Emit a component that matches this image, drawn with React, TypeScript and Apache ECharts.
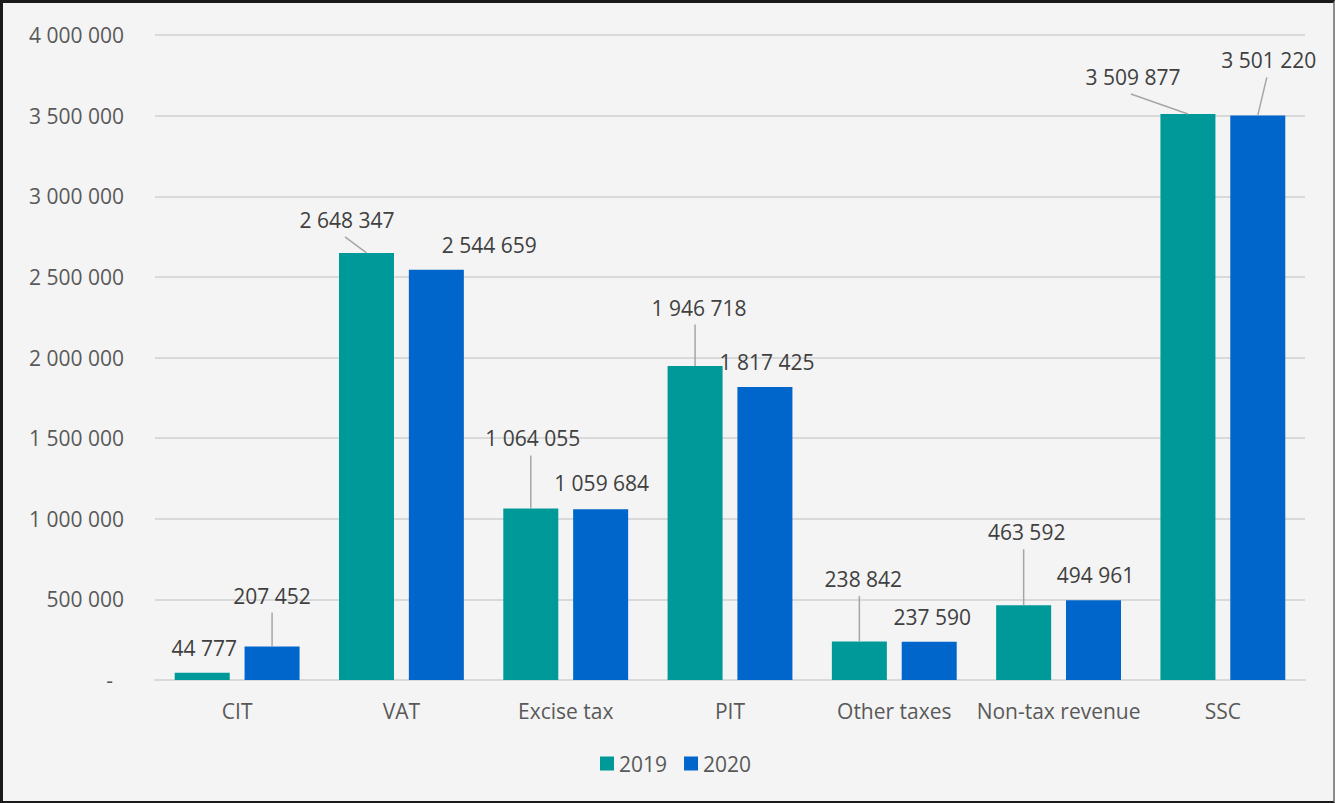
import React, { useEffect, useRef } from "react";
import * as echarts from "echarts";

const categories = ["CIT", "VAT", "Excise tax", "PIT", "Other taxes", "Non-tax revenue", "SSC"];
const values2019 = [44777, 2648347, 1064055, 1946718, 238842, 463592, 3509877];
const values2020 = [207452, 2544659, 1059684, 1817425, 237590, 494961, 3501220];
const seriesNames = ["2019", "2020"];

// label placement (label centre relative to bar top centre), layout only
const labelOffsets2019 = [[2, -25], [-19.5, -33], [2, -70], [4, -58.5], [4, -62.5], [3, -73], [-55, -37]];
const labelOffsets2020 = [[0, -51], [53, -25], [1, -26], [2, -25], [3, -25], [2, -25], [11, -55]];
const leaders2019 = [false, true, true, true, true, true, true];
const leaders2020 = [true, false, false, false, false, false, true];

const Y_MIN = 0;
const Y_MAX = 4000000;
const Y_STEP = 500000;

const FONT = "'Open Sans', 'Noto Sans', sans-serif";
const BAR_W = 55;
const BAR_GAP = 0.27;
const BAR_OFF = (BAR_W + BAR_W * BAR_GAP) / 2;

const fmt = (v: number) => String(Math.round(v)).replace(/\B(?=(\d{3})+(?!\d))/g, " ");

export default function App() {
  const ref = useRef<HTMLDivElement>(null);

  useEffect(() => {
    if (!ref.current) return;
    const chart = echarts.init(ref.current, undefined, { renderer: "svg" });

    const leaderData: number[][] = [];
    [values2019, values2020].forEach((vals, s) => {
      const flags = s === 0 ? leaders2019 : leaders2020;
      const offs = s === 0 ? labelOffsets2019 : labelOffsets2020;
      vals.forEach((v, i) => {
        if (flags[i]) leaderData.push([i, v, s, offs[i][0], offs[i][1]]);
      });
    });

    const makeLabelLayout = (offs: number[][]) => (p: any) => {
      const o = offs[p.dataIndex];
      return {
        x: p.rect.x + p.rect.width / 2 + o[0],
        y: p.rect.y + o[1],
        align: "center",
        verticalAlign: "middle",
      };
    };

    const barLabel = {
      show: true,
      position: "top",
      distance: 0,
      color: "#404040",
      fontSize: 21,
      fontFamily: FONT,
      formatter: (p: any) => fmt(p.value),
    };

    chart.setOption({
      animation: false,
      backgroundColor: "#F4F4F4",
      textStyle: { fontFamily: FONT },
      grid: { left: 155, right: 30, top: 35, bottom: 123, containLabel: false },
      legend: {
        data: seriesNames,
        left: 595,
        top: 748,
        icon: "rect",
        itemWidth: 14,
        itemHeight: 14,
        itemGap: 17,
        textStyle: { color: "#595959", fontSize: 21, fontFamily: FONT },
      },
      xAxis: {
        type: "category",
        data: categories,
        axisLine: { show: true, lineStyle: { color: "#D9D9D9", width: 2 } },
        axisTick: { show: false },
        axisLabel: { color: "#595959", fontSize: 21, fontFamily: FONT, margin: 20, interval: 0 },
      },
      yAxis: {
        type: "value",
        min: Y_MIN,
        max: Y_MAX,
        interval: Y_STEP,
        axisLine: { show: false },
        axisTick: { show: false },
        splitLine: { lineStyle: { color: "#D9D9D9", width: 2 } },
        axisLabel: {
          color: "#595959",
          fontSize: 21,
          fontFamily: FONT,
          margin: 31,
          formatter: (v: number) => (v === 0 ? "{z|-}" : fmt(v)),
          rich: { z: { color: "#595959", fontSize: 21, fontFamily: FONT, padding: [0, 11, 0, 0] } },
        },
      },
      series: [
        {
          name: seriesNames[0],
          type: "bar",
          data: values2019,
          barWidth: BAR_W,
          barGap: `${BAR_GAP * 100}%`,
          itemStyle: { color: "#009999" },
          label: barLabel,
          labelLayout: makeLabelLayout(labelOffsets2019),
        },
        {
          name: seriesNames[1],
          type: "bar",
          data: values2020,
          barWidth: BAR_W,
          barGap: `${BAR_GAP * 100}%`,
          itemStyle: { color: "#0066CC" },
          label: barLabel,
          labelLayout: makeLabelLayout(labelOffsets2020),
        },
        {
          name: "leaders",
          type: "custom",
          silent: true,
          data: leaderData,
          encode: { x: 0, y: 1 },
          z: 3,
          renderItem: (_params: any, api: any) => {
            const i = api.value(0);
            const v = api.value(1);
            const s = api.value(2);
            const dx = api.value(3);
            const dy = api.value(4);
            const p = api.coord([i, v]);
            const bx = p[0] + (s === 0 ? -BAR_OFF : BAR_OFF);
            let x1 = bx + dx - 2;
            const y1 = p[1] + dy + 17;
            if (Math.abs(x1 - bx) < 6) x1 = bx;
            return {
              type: "line",
              shape: { x1, y1, x2: bx, y2: p[1] },
              style: { stroke: "#A6A6A6", lineWidth: 1.5 },
            };
          },
        },
      ],
    });

    return () => chart.dispose();
  }, []);

  return (
    <div style={{ position: "absolute", left: 0, top: 0, width: 1335, height: 803 }}>
      <div ref={ref} style={{ position: "absolute", left: 0, top: 0, width: 1335, height: 803 }} />
      <div
        style={{
          position: "absolute",
          left: 0,
          top: 0,
          width: 1335,
          height: 803,
          boxSizing: "border-box",
          borderLeft: "3px solid #1a1a1a",
          borderTop: "3px solid #1a1a1a",
          borderBottom: "2px solid #1a1a1a",
          borderRight: "2px solid #8c8c8c",
          pointerEvents: "none",
        }}
      />
    </div>
  );
}
